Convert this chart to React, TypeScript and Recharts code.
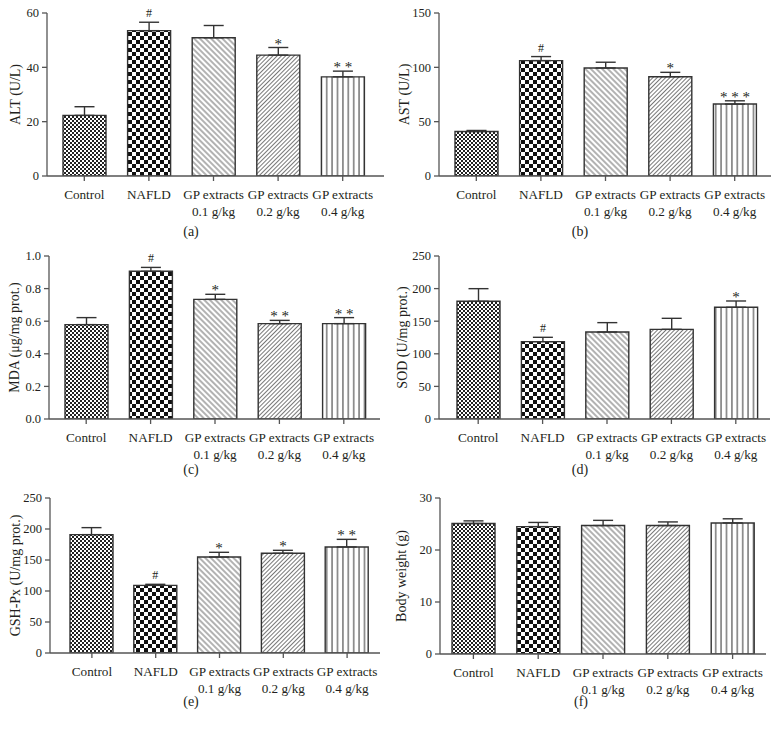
import React from "react";
import { BarChart, Bar, XAxis, YAxis, ErrorBar, LabelList, Cell } from "recharts";

const groups = ["Control", "NAFLD", "GP extracts 0.1 g/kg", "GP extracts 0.2 g/kg", "GP extracts 0.4 g/kg"];
const groupLines = [["Control"], ["NAFLD"], ["GP extracts", "0.1 g/kg"], ["GP extracts", "0.2 g/kg"], ["GP extracts", "0.4 g/kg"]];

const altValues = [22.3, 53.5, 50.9, 44.5, 36.5];
const altErrors = [3.2, 3.1, 4.5, 2.8, 2.1];
const altMarks = ["", "#", "", "*", "**"];
const altTicks = [0, 20, 40, 60];

const astValues = [41.0, 106.2, 99.4, 91.4, 66.2];
const astErrors = [0.9, 3.7, 5.3, 4.0, 3.0];
const astMarks = ["", "#", "", "*", "***"];
const astTicks = [0, 50, 100, 150];

const mdaValues = [0.579, 0.906, 0.734, 0.585, 0.585];
const mdaErrors = [0.043, 0.024, 0.031, 0.02, 0.037];
const mdaMarks = ["", "#", "*", "**", "**"];
const mdaTicks = [0, 0.2, 0.4, 0.6, 0.8, 1.0];

const sodValues = [180.5, 118.6, 133.4, 137.5, 171.3];
const sodErrors = [19.4, 6.7, 14.4, 16.9, 9.7];
const sodMarks = ["", "#", "", "", "*"];
const sodTicks = [0, 50, 100, 150, 200, 250];

const gshValues = [190.9, 109.1, 154.8, 160.8, 171.0];
const gshErrors = [11.3, 1.7, 7.6, 4.8, 12.3];
const gshMarks = ["", "#", "*", "*", "**"];
const gshTicks = [0, 50, 100, 150, 200, 250];

const bwValues = [25.1, 24.5, 24.7, 24.7, 25.2];
const bwErrors = [0.5, 0.8, 1.0, 0.7, 0.8];
const bwMarks = ["", "", "", "", ""];
const bwTicks = [0, 10, 20, 30];

const FONT = '"Liberation Serif", "Times New Roman", serif';
const INK = "#231f20";
const AXIS = "#555";

function GroupTick(props: any) {
  const { x, y, payload } = props;
  const lines = groupLines[payload.index] || [payload.value];
  return (
    <text x={x} y={y} textAnchor="middle" fontFamily={FONT} fontSize={13.2} fill={INK}>
      {lines.map((l: string, i: number) => (
        <tspan key={i} x={x} dy={i === 0 ? 16 : 17}>
          {l}
        </tspan>
      ))}
    </text>
  );
}

type PanelProps = {
  values: number[];
  errors: number[];
  marks: string[];
  ticks: number[];
  yLabel: string;
  left: number;
  top: number;
  height: number;
  mTop: number;
  mRight: number;
  yWidth: number;
  labelX: number;
  padL: number;
  padR: number;
  fmt?: (v: number) => string;
};

function Panel(p: PanelProps) {
  const data = groups.map((g, i) => ({
    name: g,
    value: p.values[i],
    err: [0, p.errors[i]],
    mark: p.marks[i],
  }));
  const max = p.ticks[p.ticks.length - 1];

  // significance marks sit just above the error bar cap
  const markContent = (lp: any) => {
    const { x, y, width, height, index, value } = lp;
    if (!value) return null;
    const perUnit = height / p.values[index];
    const capY = y - p.errors[index] * perUnit;
    const isHash = value === "#";
    return (
      <text
        x={x + width / 2}
        y={capY + (isHash ? -5 : 1)}
        textAnchor="middle"
        fontFamily={FONT}
        fontSize={isHash ? 12 : 15}
        fill={INK}
        stroke="none"
      >
        {isHash ? value : value.split("").join(" ")}
      </text>
    );
  };

  const yLabelContent = (lp: any) => {
    const vb = lp.viewBox || {};
    const cx = vb.x + p.labelX;
    const cy = vb.y + vb.height / 2;
    return (
      <text
        x={cx}
        y={cy}
        transform={`rotate(-90 ${cx} ${cy})`}
        textAnchor="middle"
        dominantBaseline="central"
        fontFamily={FONT}
        fontSize={14}
        fill={INK}
      >
        {p.yLabel}
      </text>
    );
  };

  return (
    <div style={{ position: "absolute", left: p.left, top: p.top }}>
      <BarChart
        width={389}
        height={p.height}
        data={data}
        margin={{ top: p.mTop, right: p.mRight, bottom: 0, left: 0 }}
        barSize={43}
      >
        <XAxis
          dataKey="name"
          interval={0}
          height={54}
          padding={{ left: p.padL, right: p.padR }}
          stroke={AXIS}
          strokeWidth={1.3}
          tickSize={5}
          tickMargin={2}
          tick={<GroupTick />}
        />
        <YAxis
          width={p.yWidth}
          domain={[0, max]}
          ticks={p.ticks}
          interval={0}
          allowDataOverflow
          stroke={AXIS}
          strokeWidth={1.3}
          tickSize={5}
          tickMargin={3}
          tickFormatter={p.fmt}
          tick={{ fontFamily: FONT, fontSize: 12.5, fill: INK }}
          label={{ content: yLabelContent }}
        />
        <Bar dataKey="value" stroke="#333" strokeWidth={1.4} isAnimationActive={false}>
          {data.map((d, i) => (
            <Cell key={d.name} fill={`url(#pat${i})`} />
          ))}
          <ErrorBar dataKey="err" width={10} stroke="#333" strokeWidth={1.4} direction="y" />
          <LabelList dataKey="mark" content={markContent} />
        </Bar>
      </BarChart>
    </div>
  );
}

function Caption({ text, x, y }: { text: string; x: number; y: number }) {
  return (
    <div
      style={{
        position: "absolute",
        left: x - 30,
        top: y - 9,
        width: 60,
        textAlign: "center",
        fontFamily: FONT,
        fontSize: 14,
        lineHeight: "18px",
        color: INK,
      }}
    >
      {text}
    </div>
  );
}

export default function App() {
  return (
    <div style={{ position: "absolute", left: 0, top: 0, width: 778, height: 736, background: "#fff", overflow: "hidden" }}>
      <svg width={0} height={0} style={{ position: "absolute" }}>
        <defs>
          <pattern id="pat0" patternUnits="userSpaceOnUse" width={4} height={4}>
            <rect width={4} height={4} fill="#fff" />
            <rect x={0} y={0} width={2} height={2} fill="#222" />
            <rect x={2} y={2} width={2} height={2} fill="#222" />
          </pattern>
          <pattern id="pat1" patternUnits="userSpaceOnUse" width={8} height={8}>
            <rect width={8} height={8} fill="#fff" />
            <rect x={0} y={0} width={4} height={4} fill="#111" />
            <rect x={4} y={4} width={4} height={4} fill="#111" />
          </pattern>
          <pattern id="pat2" patternUnits="userSpaceOnUse" width={4} height={4} patternTransform="rotate(-45)">
            <rect width={4} height={4} fill="#fff" />
            <line x1={2} y1={0} x2={2} y2={4} stroke="#555" strokeWidth={0.9} />
          </pattern>
          <pattern id="pat3" patternUnits="userSpaceOnUse" width={3} height={3} patternTransform="rotate(45)">
            <rect width={3} height={3} fill="#fff" />
            <line x1={1.5} y1={0} x2={1.5} y2={3} stroke="#555" strokeWidth={0.8} />
          </pattern>
          <pattern id="pat4" patternUnits="userSpaceOnUse" width={5.4} height={10}>
            <rect width={5.4} height={10} fill="#fff" />
            <line x1={2.7} y1={0} x2={2.7} y2={10} stroke="#333" strokeWidth={1} />
          </pattern>
        </defs>
      </svg>

      <Panel values={altValues} errors={altErrors} marks={altMarks} ticks={altTicks} yLabel="ALT (U/L)"
        left={0} top={0} height={230} mTop={13} mRight={5} yWidth={47} labelX={15} padL={5} padR={9} />
      <Panel values={astValues} errors={astErrors} marks={astMarks} ticks={astTicks} yLabel="AST (U/L)"
        left={389} top={0} height={230} mTop={13} mRight={7} yWidth={50} labelX={15} padL={5} padR={4} />
      <Panel values={mdaValues} errors={mdaErrors} marks={mdaMarks} ticks={mdaTicks} yLabel="MDA (μg/mg prot.)"
        left={0} top={240} height={233} mTop={16} mRight={9} yWidth={49} labelX={14} padL={5} padR={4}
        fmt={(v: number) => v.toFixed(1)} />
      <Panel values={sodValues} errors={sodErrors} marks={sodMarks} ticks={sodTicks} yLabel="SOD (U/mg prot.)"
        left={389} top={240} height={233} mTop={16} mRight={8} yWidth={50} labelX={13} padL={7} padR={2} />
      <Panel values={gshValues} errors={gshErrors} marks={gshMarks} ticks={gshTicks} yLabel="GSH-Px (U/mg prot.)"
        left={0} top={480} height={227} mTop={18} mRight={9} yWidth={50} labelX={15} padL={10} padR={1} />
      <Panel values={bwValues} errors={bwErrors} marks={bwMarks} ticks={bwTicks} yLabel="Body weight (g)"
        left={389} top={480} height={228} mTop={18} mRight={12} yWidth={51} labelX={12} padL={1} padR={1} />

      <Caption text="(a)" x={191} y={232} />
      <Caption text="(b)" x={580} y={232} />
      <Caption text="(c)" x={191} y={470} />
      <Caption text="(d)" x={580} y={470} />
      <Caption text="(e)" x={191} y={702} />
      <Caption text="(f)" x={581} y={702} />
    </div>
  );
}
